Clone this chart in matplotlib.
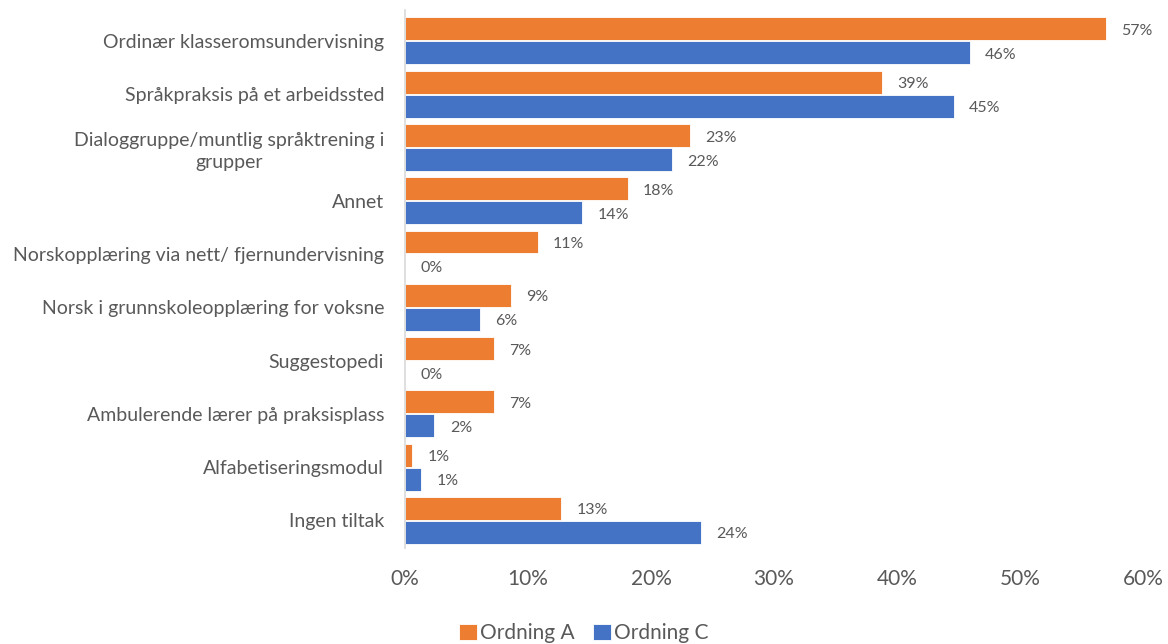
import matplotlib
matplotlib.use("Agg")
import matplotlib.pyplot as plt
import numpy as np

categories = [
    "Ordinær klasseromsundervisning",
    "Språkpraksis på et arbeidssted",
    "Dialoggruppe/muntlig språktrening i\ngrupper",
    "Annet",
    "Norskopplæring via nett/ fjernundervisning",
    "Norsk i grunnskoleopplæring for voksne",
    "Suggestopedi",
    "Ambulerende lærer på praksisplass",
    "Alfabetiseringsmodul",
    "Ingen tiltak",
]
ordning_a = [57.0, 38.8, 23.2, 18.1, 10.8, 8.6, 7.2, 7.2, 0.6, 12.7]
ordning_c = [45.9, 44.6, 21.7, 14.4, 0.0, 6.1, 0.0, 2.4, 1.3, 24.1]
series_names = ["Ordning A", "Ordning C"]
x_ticks = [0, 10, 20, 30, 40, 50, 60]

ORANGE = "#ED7D31"
BLUE = "#4472C4"
TEXT = "#595959"
FONT = ["Lato", "DejaVu Sans"]

plt.rcParams["font.family"] = FONT

fig = plt.figure(figsize=(11.68, 6.44), dpi=100)
ax = fig.add_axes([0.3467, 0.149, 0.6319, 0.8355])

y = np.arange(len(categories))
h = 0.43
off = 0.225
bars_a = ax.barh(y - off, ordning_a, height=h, color=ORANGE, edgecolor="white",
                 linewidth=0.6, label=series_names[0])
bars_c = ax.barh(y + off, ordning_c, height=h, color=BLUE, edgecolor="white",
                 linewidth=0.6, label=series_names[1])

for bars, vals in ((bars_a, ordning_a), (bars_c, ordning_c)):
    for b, v in zip(bars, vals):
        ax.annotate(f"{v:.0f}%", xy=(v, b.get_y() + b.get_height() / 2 + 0.04),
                    xytext=(11, 0), textcoords="offset points",
                    ha="left", va="center", fontsize=11.5, color=TEXT)

ax.set_xlim(0, 60)
ax.set_ylim(9.52, -0.58)
ax.set_xticks(x_ticks)
ax.set_xticklabels([f"{t}%" for t in x_ticks], fontsize=15, color=TEXT)
ax.set_yticks(y)
ax.set_yticklabels(categories, fontsize=14, color=TEXT, ha="right",
                   multialignment="center", linespacing=1.35)
ax.tick_params(axis="x", length=0, pad=15)
ax.tick_params(axis="y", length=0, pad=15)

for s in ("top", "right", "bottom"):
    ax.spines[s].set_visible(False)
ax.spines["left"].set_color("#D9D9D9")
ax.spines["left"].set_linewidth(1.2)

fig.legend(handles=[bars_a, bars_c], labels=series_names, loc="center",
           bbox_to_anchor=(0.5, 0.017), ncol=2, frameon=False,
           fontsize=15, handlelength=0.85, handleheight=0.85,
           handletextpad=0.15, columnspacing=0.9, labelcolor=TEXT)

fig.savefig("out.png", dpi=100)
